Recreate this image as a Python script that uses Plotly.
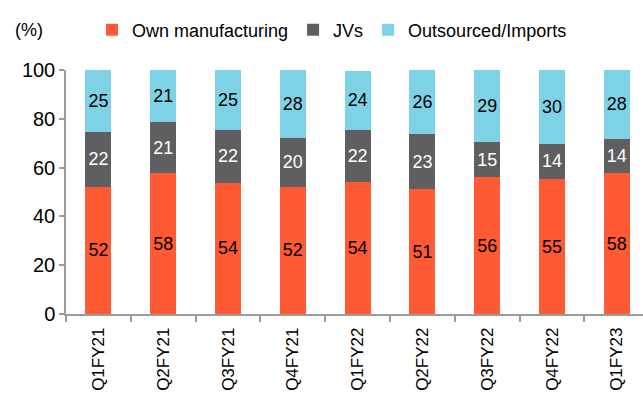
import plotly.graph_objects as go

categories = ["Q1FY21", "Q2FY21", "Q3FY21", "Q4FY21", "Q1FY22", "Q2FY22", "Q3FY22", "Q4FY22", "Q1FY23"]
own_manufacturing = [52.2, 57.6, 53.7, 52.1, 54.0, 51.1, 56.0, 55.3, 57.7]
jvs = [22.4, 21.2, 21.7, 20.1, 21.6, 22.7, 14.6, 14.4, 14.0]
outsourced = [25.4, 21.2, 24.6, 27.8, 24.0, 26.2, 29.4, 30.3, 28.3]
y_ticks = [0, 20, 40, 60, 80, 100]

FONT = "Liberation Sans, Arial, sans-serif"
ORANGE = "#FF5A33"
GREY = "#5F5F61"
BLUE = "#7ED2E6"
AXIS = "#9C9C9C"

fig = go.Figure()
series = [
    ("Own manufacturing", own_manufacturing, ORANGE, "black"),
    ("JVs", jvs, GREY, "white"),
    ("Outsourced/Imports", outsourced, BLUE, "black"),
]
for name, vals, col, tcol in series:
    fig.add_trace(go.Bar(
        x=categories, y=vals, name=name,
        marker=dict(color=col, line=dict(width=0)),
        texttemplate="%{y:.0f}", textposition="inside",
        insidetextanchor="middle", textangle=0,
        textfont=dict(family=FONT, size=18, color=tcol),
        width=0.4,
    ))

margin_l = 66
plot_w = 643 - margin_l
cat_w = 64.8
fig.update_layout(
    width=643, height=396,
    barmode="stack",
    plot_bgcolor="white", paper_bgcolor="white",
    margin=dict(l=margin_l, r=0, t=70, b=82),
    font=dict(family=FONT, size=18, color="black"),
    showlegend=True,
    legend=dict(
        orientation="h", xref="container", yref="container",
        x=92/643, xanchor="left", y=1-30/396, yanchor="middle",
        font=dict(family=FONT, size=18, color="black"),
        traceorder="normal", bgcolor="rgba(0,0,0,0)",
    ),
    xaxis=dict(
        type="category", range=[-0.5, -0.5 + plot_w/cat_w],
        tickson="boundaries", ticks="outside", ticklen=6, tickcolor=AXIS, tickwidth=1.5,
        showline=True, linecolor=AXIS, linewidth=1.5,
        tickangle=-90, tickfont=dict(family=FONT, size=17, color="black"),
        ticklabelstandoff=5,
        showgrid=False, zeroline=False,
    ),
    yaxis=dict(
        range=[0, 100], tickvals=y_ticks,
        ticks="outside", ticklen=5, tickcolor=AXIS, tickwidth=1.5,
        showline=True, linecolor=AXIS, linewidth=1.5,
        tickfont=dict(family=FONT, size=20, color="black"),
        showgrid=False, zeroline=False,
    ),
    annotations=[dict(
        text="(%)", xref="paper", yref="paper",
        x=(13 - margin_l)/plot_w, y=1 + (70-30)/244, xanchor="left", yanchor="middle",
        showarrow=False, font=dict(family=FONT, size=18, color="black"),
    )],
)
fig.write_html("out.html")
